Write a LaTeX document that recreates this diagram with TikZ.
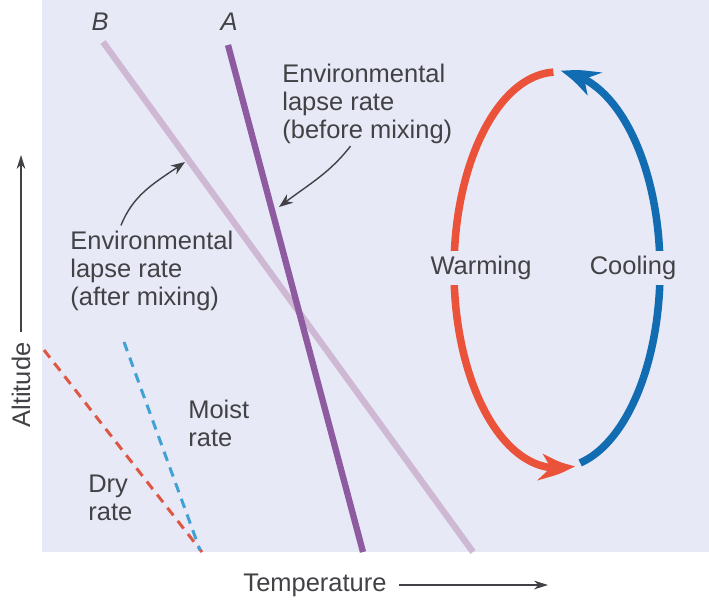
\documentclass[tikz,border=0pt]{standalone}
\usepackage{fontspec}
\setmainfont{Liberation Sans}
\usetikzlibrary{arrows.meta, positioning, bending}
\definecolor{cBack}{RGB}{232,233,246}
\definecolor{cMixA}{RGB}{142,90,160}
\definecolor{cMixB}{RGB}{206,184,212}
\definecolor{cWarm}{RGB}{234,82,58}
\definecolor{cCool}{RGB}{18,108,178}
\definecolor{cDry}{RGB}{222,86,68}
\definecolor{cMoist}{RGB}{64,162,212}
\definecolor{cText}{RGB}{66,66,70}

\begin{document}
\begin{tikzpicture}[
      x=0.02cm, y=0.02cm,
      lbl/.style={font=\fontsize{14.5}{16}\selectfont, text=cText, align=left, inner sep=0pt},
      env/.style={line width=3.6pt},
      rate/.style={line width=1.7pt, dash pattern=on 5.5pt off 4pt},
      note/.style={draw=cText, line width=0.8pt, -{Stealth[length=8pt, width=6pt]}},
      axis/.style={draw=cText, line width=0.6pt, -{Stealth[length=8pt, width=5pt]}},
      cyc/.style={line width=4.3pt, -{Stealth[length=20pt, width=15pt, inset=6pt, bend]}}]
    \useasboundingbox (0,0) rectangle (709,600);
    \fill[cBack] (42,48) rectangle (709,600);
    % lapse rate lines
    \coordinate (bTop) at (103,558);
    \coordinate (bBot) at (473,48);
    \coordinate (aTop) at (228,555);
    \coordinate (aBot) at (363,48);
    \coordinate (dryTop) at (44,250);
    \coordinate (dryBot) at (202,48);
    \coordinate (moistTop) at (124,258);
    \coordinate (moistBot) at (200,50);
    \draw[rate, cDry] (dryTop) -- (dryBot);
    \draw[rate, cMoist] (moistTop) -- (moistBot);
    \draw[env, cMixB] (bTop) -- (bBot);
    \draw[env, cMixA] (aTop) -- (aBot);
    \node[lbl, font=\fontsize{14.5}{16}\selectfont\itshape] (labB) at (100,578) {B};
    \node[lbl, font=\fontsize{14.5}{16}\selectfont\itshape] (labA) at (229,578) {A};
    % labels
    \node[lbl, anchor=west] (envBefore) at (282,496) {Environmental\\lapse rate\\(before mixing)};
    \node[lbl, anchor=west] (envAfter)  at (70,329)  {Environmental\\lapse rate\\(after mixing)};
    \node[lbl, anchor=west] (moist) at (188,177) {Moist\\rate};
    \node[lbl, anchor=west] (dry)   at (88,102)  {Dry\\rate};
    \coordinate (aMark) at (279,393);
    \coordinate (bMark) at (185,438);
    \draw[note] ([xshift=39pt, yshift=-1pt]envBefore.south west) to[out=232, in=38] (aMark);
    \draw[note] ([xshift=29pt, yshift=3pt]envAfter.north west) to[out=68, in=215] (bMark);
    % mixing cycle
    \coordinate (cycC) at (557,330);
    \draw[cyc, cWarm] ([shift={(92:103 and 198)}]cycC)
        arc[start angle=92, end angle=280, x radius=103, y radius=198];
    \draw[cyc, cCool] ([shift={(-77:103 and 198)}]cycC)
        arc[start angle=-77, end angle=88, x radius=103, y radius=198];
    \node[lbl, fill=cBack, inner sep=3pt] (warm) at (481,332) {Warming};
    \node[lbl, fill=cBack, inner sep=3pt] (cool) at (633,332) {Cooling};
    % axes
    \node[lbl, rotate=90] (altLbl) at (21,215) {Altitude};
    \coordinate (altTip) at (21,445);
    \draw[axis, shorten <=6pt] (altLbl.east) -- (altTip);
    \node[lbl] (tempLbl) at (315,15) {Temperature};
    \coordinate (tempTip) at (548,15);
    \draw[axis, shorten <=7pt] (tempLbl.east) -- (tempTip);
  \end{tikzpicture}
\end{document}
